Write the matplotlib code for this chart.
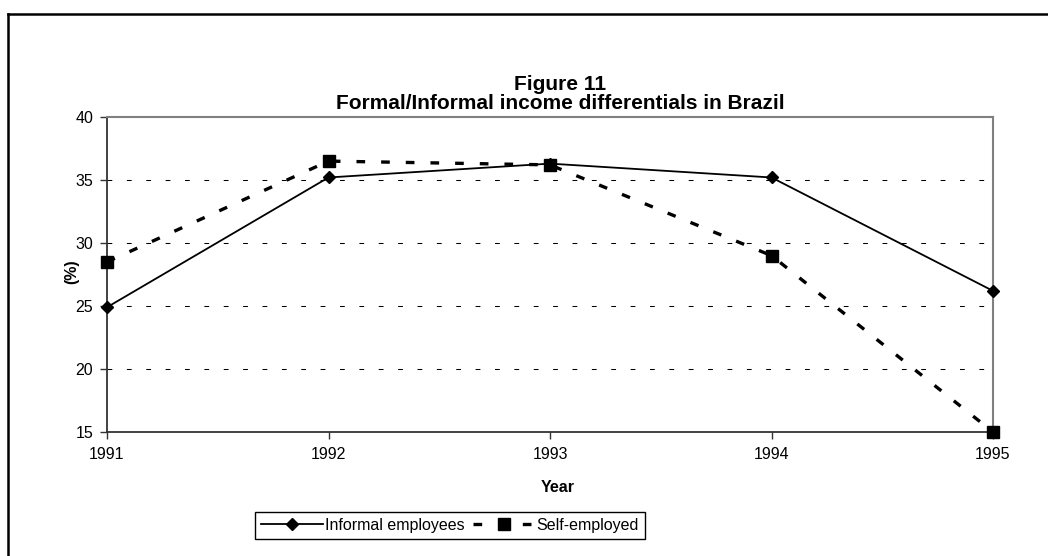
import matplotlib.pyplot as plt
from matplotlib.lines import Line2D

plt.rcParams['font.family'] = ['Liberation Sans', 'DejaVu Sans']

# Datos
years = [1991, 1992, 1993, 1994, 1995]
informal = [24.9, 35.2, 36.3, 35.2, 26.2]
self_emp = [28.5, 36.5, 36.2, 29.0, 15.0]
y_ticks = [15, 20, 25, 30, 35, 40]

W, H = 1048, 556
fig = plt.figure(figsize=(W / 100, H / 100), dpi=100)
ax = fig.add_axes([107 / W, 1 - 432 / H, (993 - 107) / W, (432 - 117) / H])

# Rejilla
for v in y_ticks[1:-1]:
    ax.axhline(v, color='black', lw=0.75, linestyle=(0, (4.6, 14)), zorder=1)

ax.plot(years, informal, color='black', lw=1.3, marker='D', markersize=6,
        label='Informal employees', zorder=3, clip_on=False)
ax.plot(years, self_emp, color='black', lw=2.4, linestyle=(0, (2.6, 4.8)),
        marker='s', markersize=9, label='Self-employed', zorder=3, clip_on=False)

ax.set_xlim(1991, 1995)
ax.set_ylim(15, 40)
ax.set_xticks(years)
ax.set_yticks(y_ticks)
ax.tick_params(labelsize=11.5, length=5, width=1, color='#333333')
ax.tick_params(axis='y', pad=5)
ax.tick_params(axis='x', pad=6)

for s in ['left', 'bottom']:
    ax.spines[s].set_color('#333333')
    ax.spines[s].set_linewidth(1.3)
for s in ['top', 'right']:
    ax.spines[s].set_color('#808080')
    ax.spines[s].set_linewidth(1.5)

fig.text(560 / W, 1 - 94 / H, 'Figure 11\nFormal/Informal income differentials in Brazil',
         ha='center', va='center', fontsize=15, fontweight='bold', linespacing=0.95)
fig.text(558 / W, 1 - 488 / H, 'Year', ha='center', va='center',
         fontsize=11.5, fontweight='bold')
fig.text(72 / W, 1 - 272 / H, '(%)', ha='center', va='center',
         fontsize=11.5, fontweight='bold', rotation=90)

leg = fig.legend(loc='center', bbox_to_anchor=(450 / W, 1 - 525.5 / H), ncol=2,
                 fontsize=11.5, fancybox=False, edgecolor='black', framealpha=1,
                 handlelength=3.9, columnspacing=0.5, handletextpad=0.1,
                 borderpad=0.4, borderaxespad=0)
leg.get_frame().set_linewidth(1)

# Marco exterior
fig.add_artist(Line2D([7.5 / W, 1], [1 - 13.5 / H, 1 - 13.5 / H], color='black', lw=1.8))
fig.add_artist(Line2D([7.5 / W, 7.5 / W], [0, 1 - 13.5 / H], color='black', lw=1.8))

fig.savefig('out.png', dpi=100)
